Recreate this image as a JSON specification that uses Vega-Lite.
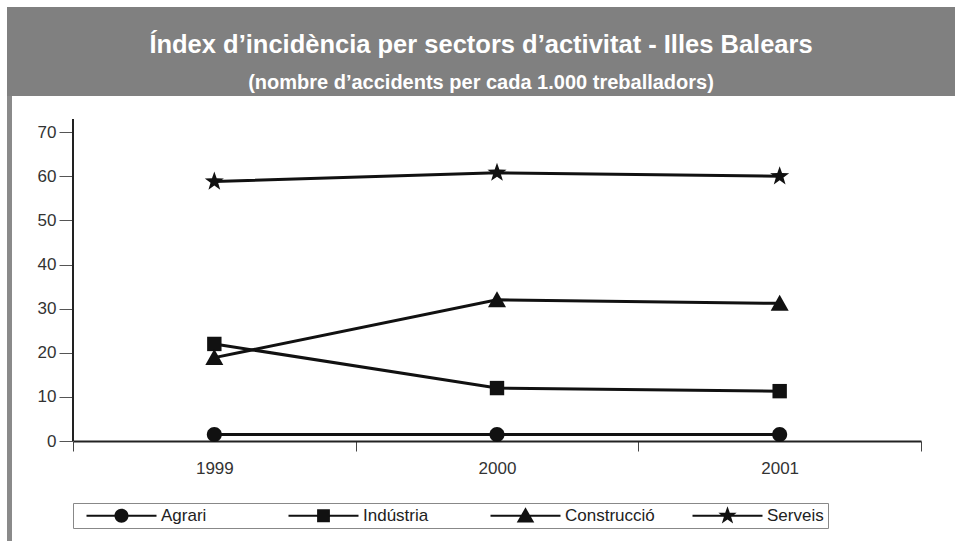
{
  "$schema": "https://vega.github.io/schema/vega-lite/v6.json",
  "background": "white",
  "padding": {"left": 7, "top": 7, "right": 0, "bottom": 0},
  "config": {
    "view": {"stroke": null},
    "concat": {"spacing": 0},
    "font": "Liberation Sans"
  },
  "spacing": 0,
  "vconcat": [
    {
      "width": 948,
      "height": 89,
      "view": {"fill": "#808080", "stroke": null},
      "data": {"values": [{"t": ""}]},
      "mark": {"type": "text"},
      "encoding": {"text": {"field": "t"}},
      "title": {
        "text": "Índex d’incidència per sectors d’activitat - Illes Balears",
        "subtitle": "(nombre d’accidents per cada 1.000 treballadors)",
        "anchor": "middle",
        "orient": "top",
        "offset": -86,
        "font": "Liberation Sans",
        "fontSize": 25.5,
        "fontWeight": "bold",
        "color": "white",
        "subtitleFont": "Liberation Sans",
        "subtitleFontSize": 20,
        "subtitleFontWeight": "bold",
        "subtitleColor": "white",
        "subtitlePadding": 15
      }
    },
    {
      "spacing": 0,
      "hconcat": [
        {
          "width": 5,
          "height": 445,
          "view": {"fill": "#8a8a8a", "stroke": null},
          "data": {"values": [{"t": ""}]},
          "mark": {"type": "text"},
          "encoding": {"text": {"field": "t"}}
        },
        {
          "width": 848,
          "height": 345,
          "data": {
            "values": [
              {"sector": "Agrari", "year": 1999, "value": 1.5},
              {"sector": "Agrari", "year": 2000, "value": 1.5},
              {"sector": "Agrari", "year": 2001, "value": 1.5},
              {"sector": "Indústria", "year": 1999, "value": 22.0},
              {"sector": "Indústria", "year": 2000, "value": 12.0},
              {"sector": "Indústria", "year": 2001, "value": 11.3},
              {"sector": "Construcció", "year": 1999, "value": 18.9},
              {"sector": "Construcció", "year": 2000, "value": 32.0},
              {"sector": "Construcció", "year": 2001, "value": 31.2},
              {"sector": "Serveis", "year": 1999, "value": 58.8},
              {"sector": "Serveis", "year": 2000, "value": 60.8},
              {"sector": "Serveis", "year": 2001, "value": 60.0}
            ]
          },
          "encoding": {
            "x": {
              "field": "year",
              "type": "quantitative",
              "scale": {"domain": [1998.5, 2001.5], "nice": false, "zero": false},
              "axis": {
                "title": null,
                "values": [1998.5, 1999, 1999.5, 2000, 2000.5, 2001, 2001.5],
                "labelExpr": "datum.value % 1 === 0 ? format(datum.value, 'd') : ''",
                "tickOpacity": {"condition": {"test": "datum.value % 1 === 0", "value": 0}, "value": 1},
                "tickSize": 10,
                "tickColor": "#444",
                "tickWidth": 1,
                "labelPadding": 9,
                "labelFontSize": 17,
                "labelColor": "#333",
                "labelFont": "Liberation Sans",
                "domainColor": "#222",
                "domainWidth": 2,
                "grid": false,
                "labelOverlap": false,
                "labelFlush": false
              }
            },
            "y": {
              "field": "value",
              "type": "quantitative",
              "scale": {"domain": [0, 78.2], "nice": false},
              "axis": {
                "title": null,
                "values": [0, 10, 20, 30, 40, 50, 60, 70],
                "tickSize": 14,
                "tickColor": "#555",
                "tickWidth": 1,
                "labelPadding": 3,
                "labelFontSize": 17,
                "labelColor": "#333",
                "labelFont": "Liberation Sans",
                "domain": false,
                "grid": false,
                "minExtent": 61
              }
            }
          },
          "layer": [
            {
              "data": {"values": [{"year": 1998.5, "value": 0}, {"year": 1998.5, "value": 73}]},
              "mark": {"type": "line", "color": "#222", "strokeWidth": 2},
              "encoding": {}
            },
            {
              "mark": {"type": "line", "color": "#111", "strokeWidth": 3},
              "encoding": {"detail": {"field": "sector"}}
            },
            {
              "mark": {"type": "point", "filled": true, "color": "#111", "opacity": 1, "size": 400},
              "encoding": {
                "shape": {
                  "field": "sector",
                  "type": "nominal",
                  "scale": {
                    "domain": ["Agrari", "Indústria", "Construcció", "Serveis"],
                    "range": [
                      "M0.75,0A0.75,0.75,0,1,1,-0.75,0A0.75,0.75,0,1,1,0.75,0Z",
                      "M-0.72,-0.72H0.72V0.72H-0.72Z",
                      "M0,-0.85L0.9,0.75H-0.9Z",
                      "M0,-1L0.235,-0.324L0.951,-0.309L0.38,0.124L0.588,0.809L0,0.4L-0.588,0.809L-0.38,0.124L-0.951,-0.309L-0.235,-0.324Z"
                    ]
                  },
                  "legend": null
                }
              }
            },
            {
              "mark": {"type": "point", "filled": true, "color": "#111", "opacity": 0, "size": 256},
              "encoding": {
                "shape": {
                  "field": "sector",
                  "type": "nominal",
                  "scale": {
                    "domain": ["Agrari", "Indústria", "Construcció", "Serveis"],
                    "range": [
                      "M-4.375,-0.125H4.375V0.125H-4.375ZM0.875,0A0.875,0.875,0,1,1,-0.875,0A0.875,0.875,0,1,1,0.875,0Z",
                      "M-4.375,-0.125H4.375V0.125H-4.375ZM-0.8,-0.8H0.8V0.8H-0.8Z",
                      "M-4.375,-0.125H4.375V0.125H-4.375ZM0,-1.05L1.1,0.85H-1.1Z",
                      "M-4.375,-0.125H4.375V0.125H-4.375ZM0,-1.2L0.283,-0.389L1.142,-0.371L0.457,0.148L0.706,0.971L0,0.48L-0.706,0.971L-0.457,0.148L-1.142,-0.371L-0.283,-0.389Z"
                    ]
                  },
                  "legend": {
                    "title": null,
                    "orient": "none",
                    "legendX": 0,
                    "legendY": 407,
                    "direction": "horizontal",
                    "columns": 4,
                    "gridAlign": "all",
                    "columnPadding": 28,
                    "symbolSize": 256,
                    "symbolOpacity": 1,
                    "symbolFillColor": "#111",
                    "symbolStrokeColor": "#111",
                    "symbolStrokeWidth": 0,
                    "symbolOffset": 36,
                    "labelOffset": 31,
                    "labelFontSize": 17,
                    "labelFont": "Liberation Sans",
                    "labelColor": "#222",
                    "labelLimit": 200,
                    "padding": 4,
                    "strokeColor": "#888",
                    "encode": {
                      "symbols": {
                        "update": {
                          "fill": {"value": "#111"},
                          "opacity": {"value": 1},
                          "fillOpacity": {"value": 1},
                          "strokeWidth": {"value": 0}
                        }
                      }
                    }
                  }
                }
              }
            }
          ],
          "resolve": {"scale": {"shape": "independent"}}
        }
      ]
    }
  ]
}
